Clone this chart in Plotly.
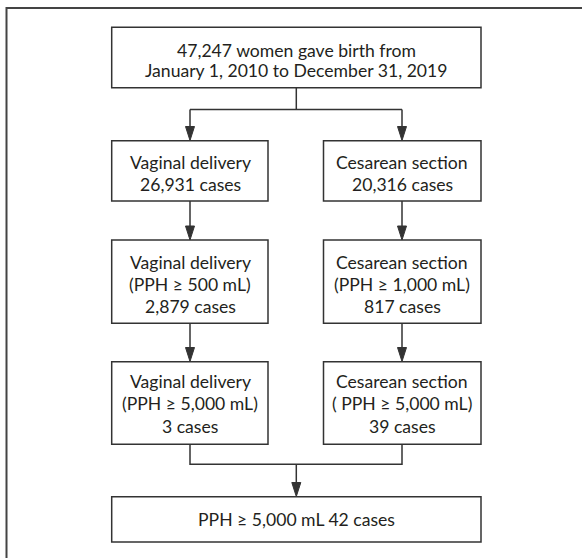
import plotly.graph_objects as go

# ---------------- data ----------------
TOTAL_WOMEN = 47247
PERIOD_START = "January 1, 2010"
PERIOD_END = "December 31, 2019"
GROUPS = ["Vaginal delivery", "Cesarean section"]
GROUP_CASES = [26931, 20316]
PPH_THRESHOLDS = [500, 1000]          # mL
PPH_CASES = [2879, 817]
SEVERE_THRESHOLD = 5000               # mL
SEVERE_CASES = [3, 39]
SEVERE_PREFIX = ["(", "( "]           # as printed in the figure
SEVERE_TOTAL = 42

# ---------------- style / layout ----------------
W, H = 582, 558
LINE = "#333333"
TEXT = "#231f20"
FONT = "Lato"
FS = 17.6

CL, CR, CM = 190, 402, 296.3
BOX_L = (111.7, 268)
BOX_R = (323.5, 481)
BOX_W = (111.7, 481)

shapes = []
anns = []


def rect(x0, x1, y0, y1):
    shapes.append(dict(type="rect", xref="x", yref="y", x0=x0, x1=x1, y0=y0, y1=y1,
                       line=dict(color=LINE, width=1.5), fillcolor="white", layer="above"))


def poly(pts, width=1.5, color=LINE):
    d = "M " + " L ".join(f"{x},{y}" for x, y in pts)
    shapes.append(dict(type="path", xref="x", yref="y", path=d,
                       line=dict(color=color, width=width)))


def arrow(x, y0, y1, head=14, half=4.5):
    poly([(x, y0), (x, y1 - head + 1)])
    d = f"M {x - half},{y1 - head} L {x + half},{y1 - head} L {x},{y1} Z"
    shapes.append(dict(type="path", xref="x", yref="y", path=d,
                       line=dict(color=LINE, width=1), fillcolor=LINE))


def label(x, y, s):
    anns.append(dict(x=x, y=y, xref="x", yref="y", text=s, showarrow=False,
                     xanchor="center", yanchor="middle",
                     font=dict(family=FONT, size=FS, color=TEXT)))


def n(v):
    return f"{v:,}"


# outer frame (top and left edges visible)
poly([(590, 8), (6.5, 8), (6.5, 570)], width=2, color="#444444")

# top box
rect(BOX_W[0], BOX_W[1], 27.3, 87.7)
label(CM, 50, f"{n(TOTAL_WOMEN)} women gave birth from")
label(CM, 70.5, f"{PERIOD_START} to {PERIOD_END}")

# split
poly([(CM, 87.7), (CM, 109.5)])
poly([(CL, 109.5), (CR, 109.5)])
arrow(CL, 109.5, 140.5)
arrow(CR, 109.5, 140.5)

cols = [(CL, BOX_L), (CR, BOX_R)]
for i, (cx, (x0, x1)) in enumerate(cols):
    # level 1
    rect(x0, x1, 140.7, 201)
    label(cx, 162.3, GROUPS[i])
    label(cx, 184.3, f"{n(GROUP_CASES[i])} cases")
    arrow(cx, 201, 240)
    # level 2
    rect(x0, x1, 240, 323.3)
    label(cx, 262, GROUPS[i])
    label(cx, 284, f"(PPH \u2265 {n(PPH_THRESHOLDS[i])} mL)")
    label(cx, 306, f"{n(PPH_CASES[i])} cases")
    arrow(cx, 323.3, 361.5)
    # level 3
    rect(x0, x1, 361.7, 444.3)
    label(cx, 381.5, GROUPS[i])
    label(cx, 403.8, f"{SEVERE_PREFIX[i]}PPH \u2265 {n(SEVERE_THRESHOLD)} mL)")
    label(cx, 426.7, f"{n(SEVERE_CASES[i])} cases")

# merge
poly([(CL, 444.3), (CL, 464.3), (CR, 464.3), (CR, 444.3)])
arrow(CM, 464.3, 496.5)

# final box
rect(BOX_W[0], BOX_W[1], 496.7, 542)
label(CM, 519.5, f"PPH \u2265 {n(SEVERE_THRESHOLD)} mL {n(SEVERE_TOTAL)} cases")

fig = go.Figure()
fig.update_layout(
    width=W, height=H,
    margin=dict(l=0, r=0, t=0, b=0),
    paper_bgcolor="white", plot_bgcolor="white",
    xaxis=dict(range=[0, W], visible=False, fixedrange=True),
    yaxis=dict(range=[H, 0], visible=False, fixedrange=True),
    shapes=shapes, annotations=anns, showlegend=False,
)
fig.write_html(
    "out.html",
    config={"displayModeBar": False},
    post_script="document.body.style.margin='0';document.body.style.overflow='hidden';",
)
